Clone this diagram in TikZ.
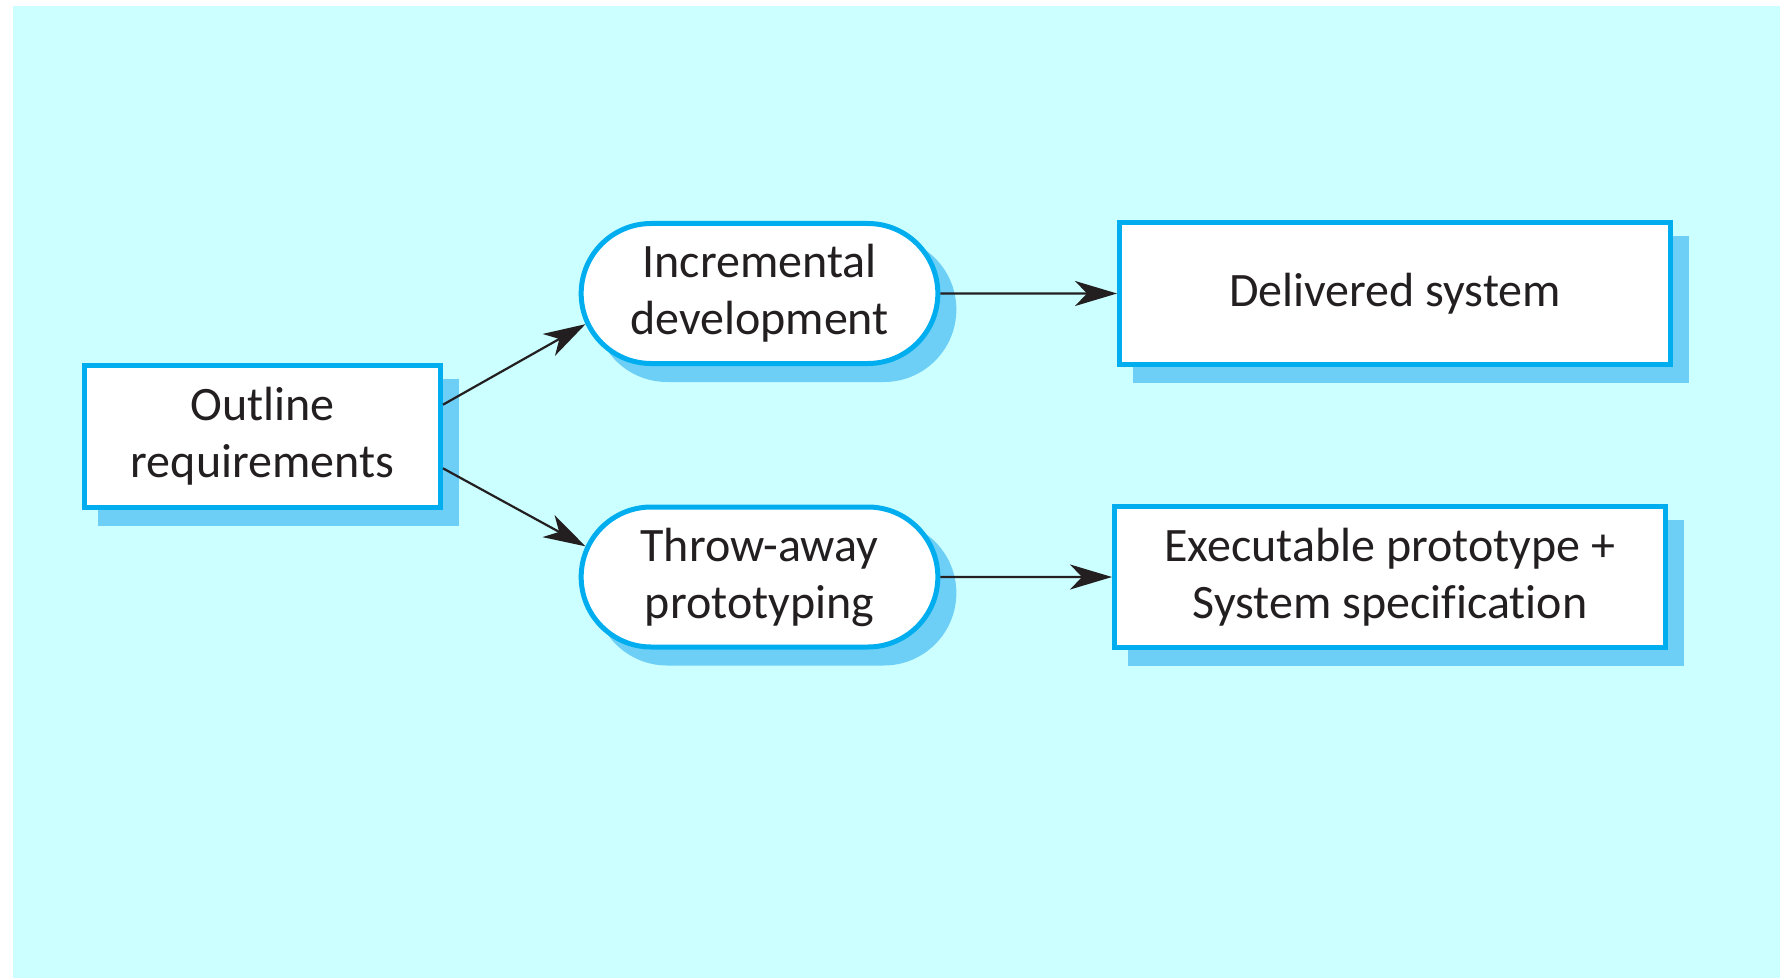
\documentclass[tikz,border=0pt]{standalone}
\usepackage{fontspec}
\setmainfont{Carlito}[Ligatures=NoCommon]
\usepackage{xcolor}
\usepackage{tikz}
\usetikzlibrary{arrows.meta,positioning,shapes.misc,shadows}

\definecolor{bgcyan}{RGB}{204,255,255}
\definecolor{edgeblue}{RGB}{0,174,239}
\definecolor{shadeblue}{RGB}{109,207,246}
\definecolor{inkblack}{RGB}{35,31,32}

\begin{document}
\begin{tikzpicture}[x=0.5pt,y=-0.5pt,->,>={Stealth[length=21pt,width=12.5pt,inset=6pt]},
            line width=1.1pt,color=inkblack,on grid,
            font=\fontsize{24}{28.5}\selectfont]
        \tikzstyle{box}=[draw=edgeblue,line width=2.5pt,fill=white,text=inkblack,align=center,
            drop shadow={shadow xshift=8pt,shadow yshift=-8pt,fill=shadeblue,draw=shadeblue,opacity=1}]
        \tikzstyle{activity}=[box,rounded rectangle,minimum width=185pt,minimum height=70pt]
        \tikzstyle{outcome}=[box,rectangle,minimum width=275.5pt,minimum height=70.5pt]

        \useasboundingbox (0,0) rectangle (1780,978);
        \fill[bgcyan,-] (13,6) rectangle (1780,978);

        \node[box,minimum width=178pt,minimum height=71pt] (out) at (262.5,436.5) {Outline\\requirements};
        \node[activity] (inc) [above right=71.5pt and 248.5pt of out] {Incremental\\development};
        \node[activity] (thr) [below right=70.25pt and 248.5pt of out] {Throw-away\\prototyping};
        \node[outcome] (del) [right=317.75pt of inc] {Delivered system};
        \node[outcome] (exe) [right=315.25pt of thr] {Executable prototype +\\System specification};

        \draw (out.10) -- (inc.190);
        \draw (out.-10) -- (thr.170);
        \draw (inc) -- (del);
        \draw (thr) -- (exe);
    \end{tikzpicture}
\end{document}
